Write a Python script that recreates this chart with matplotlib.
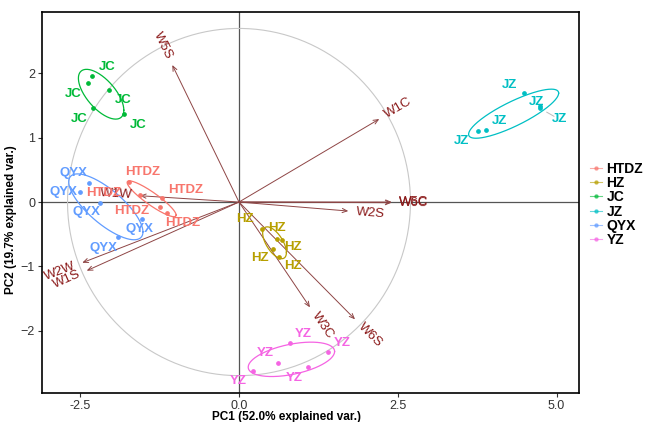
import numpy as np
import matplotlib
matplotlib.use('Agg')
import matplotlib.pyplot as plt
from matplotlib.lines import Line2D

plt.rcParams['font.family'] = ['Liberation Sans', 'DejaVu Sans']

# group scores (PC1, PC2) and label positions
groups = ['HTDZ', 'HZ', 'JC', 'JZ', 'QYX', 'YZ']
colors = ['#F8766D', '#B79F00', '#00BA38', '#00BFC4', '#619CFF', '#F564E3']

htdz_pc1 = [-1.728, -1.217, -1.244, -1.129, -1.559]
htdz_pc2 = [0.316, 0.067, -0.073, -0.166, 0.109]
htdz_lx = [-1.512, -0.835, -1.685, -0.882, -2.126]
htdz_ly = [0.467, 0.187, -0.140, -0.327, 0.140]

hz_pc1 = [0.357, 0.594, 0.540, 0.630, 0.677]
hz_pc2 = [-0.420, -0.575, -0.731, -0.851, -0.591]
hz_lx = [0.094, 0.594, 0.855, 0.331, 0.855]
hz_ly = [-0.264, -0.409, -0.705, -0.876, -0.995]

jc_pc1 = [-2.315, -2.383, -2.052, -2.294, -1.811]
jc_pc2 = [1.960, 1.855, 1.747, 1.457, 1.364]
jc_lx = [-2.079, -2.614, -1.827, -2.520, -1.591]
jc_ly = [2.100, 1.680, 1.586, 1.291, 1.198]

jz_pc1 = [4.493, 4.740, 3.759, 3.890, 4.740]
jz_pc2 = [1.690, 1.457, 1.109, 1.120, 1.493]
jz_lx = [4.268, 5.044, 4.110, 3.507, 4.688]
jz_ly = [1.820, 1.286, 1.264, 0.949, 1.560]

qyx_pc1 = [-2.357, -2.189, -1.532, -1.901, -2.504]
qyx_pc2 = [0.300, -0.011, -0.269, -0.549, 0.156]
qyx_lx = [-2.609, -2.398, -1.559, -2.137, -2.767]
qyx_ly = [0.456, -0.160, -0.425, -0.711, 0.151]

yz_pc1 = [0.803, 1.397, 0.619, 1.091, 0.216]
yz_pc2 = [-2.197, -2.337, -2.499, -2.571, -2.628]
yz_lx = [1.008, 1.633, 0.409, 0.866, -0.016]
yz_ly = [-2.053, -2.188, -2.344, -2.733, -2.779]

# variable loadings (arrow tips)
var_names = ['W5S', 'W1C', 'W5C', 'W6C', 'W2S', 'W3C', 'W6S', 'W2W', 'W1S', 'W1W']
var_x = [-1.050, 2.209, 2.405, 2.400, 1.721, 1.118, 1.827, -2.468, -2.398, -1.559]
var_y = [2.131, 1.291, 0.000, -0.010, -0.140, -1.638, -1.824, -0.944, -1.068, 0.098]

circle_r = 2.7
ellipse_prob = 0.68

scores = {
    'HTDZ': (htdz_pc1, htdz_pc2, htdz_lx, htdz_ly),
    'HZ': (hz_pc1, hz_pc2, hz_lx, hz_ly),
    'JC': (jc_pc1, jc_pc2, jc_lx, jc_ly),
    'JZ': (jz_pc1, jz_pc2, jz_lx, jz_ly),
    'QYX': (qyx_pc1, qyx_pc2, qyx_lx, qyx_ly),
    'YZ': (yz_pc1, yz_pc2, yz_lx, yz_ly),
}

fig = plt.figure(figsize=(6.45, 4.22), dpi=100)
ax = fig.add_axes([0.0651, 0.0687, 0.8326, 0.9028])

# reference lines and correlation circle
ax.axhline(0, color='#555555', lw=0.9, zorder=1)
ax.axvline(0, color='#555555', lw=0.9, zorder=1)
t = np.linspace(0, 2 * np.pi, 300)
ax.plot(circle_r * np.cos(t), circle_r * np.sin(t), color='#C8C8C8', lw=0.8, zorder=1)

# variable arrows and labels
for name, vx, vy in zip(var_names, var_x, var_y):
    ax.annotate('', xy=(vx, vy), xytext=(0, 0),
                arrowprops=dict(arrowstyle='->,head_length=0.35,head_width=0.15',
                                color='#8E4545', lw=0.7, shrinkA=0, shrinkB=0),
                zorder=2)
    ang = np.degrees(np.arctan(vy / vx))
    d = np.array([vx, vy]) / np.hypot(vx, vy)
    px, py = vx + 0.12 * d[0], vy + 0.12 * d[1]
    ax.text(px, py, name, color='#8B1A1A', fontsize=9.5, rotation=ang,
            rotation_mode='anchor', ha='left' if vx > 0 else 'right',
            va='center', zorder=4)

# groups: ellipses, points, labels
ed = np.sqrt(-2 * np.log(1 - ellipse_prob))
for g, c in zip(groups, colors):
    x, y, lx, ly = scores[g]
    pts = np.column_stack([x, y])
    mu = pts.mean(axis=0)
    L = np.linalg.cholesky(np.cov(pts.T))
    circ = np.column_stack([np.cos(t), np.sin(t)])
    ell = circ @ L.T * ed + mu
    ax.plot(ell[:, 0], ell[:, 1], color=c, lw=0.9, zorder=3)
    ax.plot(x, y, 'o', color=c, ms=2.4, zorder=3)
    for tx, ty in zip(lx, ly):
        ax.text(tx, ty, g, color=c, fontsize=9.5, fontweight='bold',
                ha='center', va='center', zorder=5)

# repel segment for the far JZ label
p = np.array([jz_pc1[1], jz_pc2[1]])
q = np.array([jz_lx[1], jz_ly[1]])
a, b = p + 0.35 * (q - p), p + 0.72 * (q - p)
ax.plot([a[0], b[0]], [a[1], b[1]], color='#BBBBBB', lw=0.7, zorder=2)

ax.set_xlim(-3.102, 5.354)
ax.set_ylim(-2.970, 2.955)
ax.set_xticks([-2.5, 0.0, 2.5, 5.0])
ax.set_xticklabels(['-2.5', '0.0', '2.5', '5.0'])
ax.set_yticks([-2, -1, 0, 1, 2])
ax.tick_params(length=3, width=0.8, color='#333333', labelcolor='#333333',
               labelsize=9, pad=2)
for s in ax.spines.values():
    s.set_linewidth(1.2)
    s.set_color('black')

ax.set_xlabel('PC1 (52.0% explained var.)', fontsize=8.5, fontweight='bold')
ax.set_ylabel('PC2 (19.7% explained var.)', fontsize=8.5, fontweight='bold')
ax.xaxis.set_label_coords(0.456, -0.046)
ax.yaxis.set_label_coords(-0.046, 0.454)

handles = [Line2D([0], [0], color=c, lw=0.8, marker='o', ms=2.2, alpha=0.6)
           for c in colors]
leg = ax.legend(handles, groups, loc='center left', bbox_to_anchor=(1.01, 0.495),
                frameon=False, handlelength=0.9, handletextpad=0.3,
                labelspacing=0.02, borderaxespad=0,
                prop={'weight': 'bold', 'size': 10})

fig.savefig('out.png', dpi=100)
